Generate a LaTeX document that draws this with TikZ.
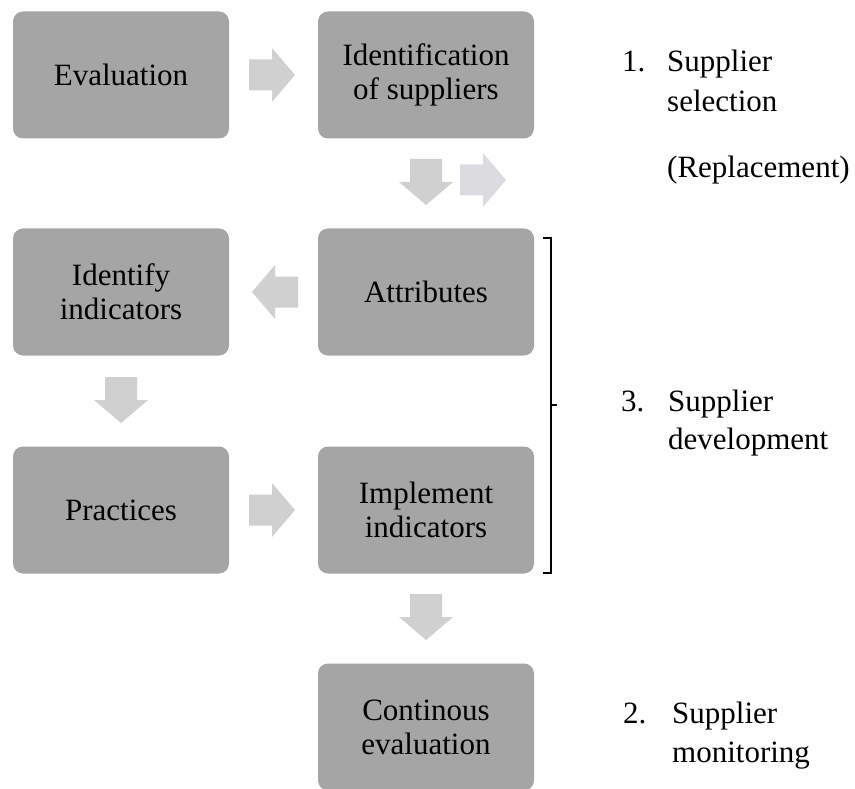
\documentclass[tikz,border=0pt]{standalone}
\usepackage{fontspec}
\setmainfont{Liberation Serif}
\definecolor{boxgray}{HTML}{A5A5A5}
\definecolor{arrgray}{HTML}{D0D0D0}
\definecolor{arrlight}{HTML}{DCDBDF}
\begin{document}
\begin{tikzpicture}[x=1pt,y=-1pt,
  box/.style={fill=boxgray, rounded corners=10pt, minimum width=216pt, minimum height=127pt,
              align=center, inner sep=2pt, font=\fontsize{31}{34}\selectfont},
  lbl/.style={anchor=base west, inner sep=0pt, font=\fontsize{31}{34}\selectfont},
  rarr/.pic={\fill[arrgray] (0,-15.5) -- (23,-15.5) -- (23,-27) -- (46,0) -- (23,27) -- (23,15.5) -- (0,15.5) -- cycle;},
  rarrl/.pic={\fill[arrlight] (0,-15.5) -- (23,-15.5) -- (23,-27) -- (46,0) -- (23,27) -- (23,15.5) -- (0,15.5) -- cycle;},
  larr/.pic={\fill[arrgray] (0,-15.5) -- (-23,-15.5) -- (-23,-27) -- (-46,0) -- (-23,27) -- (-23,15.5) -- (0,15.5) -- cycle;},
  darr/.pic={\fill[arrgray] (-16,0) -- (-16,23) -- (-27,23) -- (0,46) -- (27,23) -- (16,23) -- (16,0) -- cycle;}
]
\useasboundingbox (0,0) rectangle (855,789);

% boxes
\node[box] (eval)  at (121,75)  {Evaluation};
\node[box] (ident) at (426,75)  {Identification\\of suppliers};
\node[box] (indic) at (121,292) {Identify\\indicators};
\node[box] (attr)  at (426,292) {Attributes};
\node[box] (pract) at (121,510) {Practices};
\node[box] (impl)  at (426,510) {Implement\\indicators};
\node[box] (cont)  at (426,727) {Continous\\evaluation};

% block arrows
\pic at (249,75) {rarr};
\pic at (426,159) {darr};
\pic at (460,180) {rarrl};
\pic at (298,292) {larr};
\pic at (121,377) {darr};
\pic at (249,510) {rarr};
\pic at (426,594) {darr};

% bracket
\draw[line width=1.2pt] (543,238) -- (551,238) -- (551,573) -- (543,573);
\draw[line width=1.2pt] (551,405) -- (557,405);

% right-hand labels
\node[lbl] (n1) at (622,72) {1.};
\node[lbl] (t1a) at (667,72) {Supplier};
\node[lbl] (t1b) at (667,112) {selection};
\node[lbl] (t1c) at (667,178) {(Replacement)};

\node[lbl] (n3) at (621,411) {3.};
\node[lbl] (t3a) at (668,411) {Supplier};
\node[lbl] (t3b) at (668,449) {development};

\node[lbl] (n2) at (623,723) {2.};
\node[lbl] (t2a) at (672,723) {Supplier};
\node[lbl] (t2b) at (672,762) {monitoring};
\end{tikzpicture}
\end{document}
